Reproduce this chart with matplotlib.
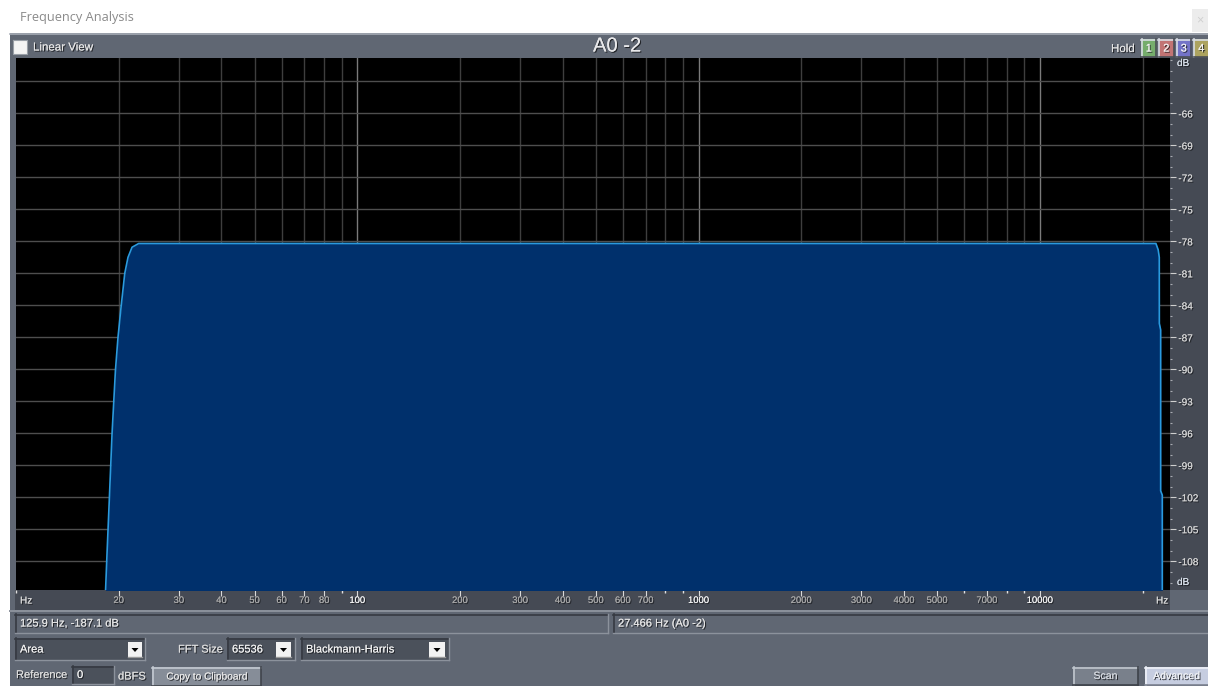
import matplotlib
matplotlib.use("Agg")
import matplotlib.pyplot as plt
from matplotlib.patches import Rectangle, Polygon
from matplotlib.ticker import NullFormatter
import matplotlib.patheffects as pe

plt.rcParams['font.family'] = ['Liberation Sans', 'DejaVu Sans']

W, H = 1208, 686

# Spectrum trace: frequency (Hz) and level (dB)
freq_hz = [18.0, 18.3, 18.48, 18.78, 19.12, 19.56, 19.90, 20.31, 20.83, 21.29,
           21.88, 22.88, 1000.0, 21890.0, 22230.0, 22390.0, 22400.0, 22600.0,
           22600.0, 22850.0, 22850.0]
level_db = [-112.0, -110.7, -107.3, -102.0, -96.0, -90.1, -87.0, -84.2, -81.0, -79.5,
            -78.55, -78.2, -78.2, -78.2, -78.8, -79.5, -85.7, -86.3,
            -101.4, -101.8, -112.0]

# Axis ranges
freq_range = (10.0, 24070.0)
db_range = (-110.7, -60.8)

# Frequency ticks
x_label_ticks = [20, 30, 40, 50, 60, 70, 80, 100, 200, 300, 400, 500, 600, 700,
                 1000, 2000, 3000, 4000, 5000, 7000, 10000]
x_plain_ticks = [10, 90, 800, 900, 6000, 8000, 9000, 20000]
bright_ticks = [100, 1000, 10000]
grid_freqs = [20, 30, 40, 50, 60, 70, 80, 90,
              100, 200, 300, 400, 500, 600, 700, 800, 900,
              1000, 2000, 3000, 4000, 5000, 6000, 7000, 8000, 9000,
              10000, 20000]

# Level ticks
db_label_ticks = [-66, -69, -72, -75, -78, -81, -84, -87, -90, -93, -96, -99,
                  -102, -105, -108]
grid_db = [-63] + db_label_ticks
minor_db = list(range(-110, -60))

PANEL = '#606773'
DARK = '#454a54'
shadow = [pe.withSimplePatchShadow(offset=(0.8, -0.8), shadow_rgbFace='#1a1c20', alpha=0.9),
          pe.Normal()]

fig = plt.figure(figsize=(W / 100, H / 100), dpi=100)
fig.patch.set_facecolor('white')

bg = fig.add_axes([0, 0, 1, 1])
bg.set_xlim(0, W)
bg.set_ylim(H, 0)
bg.axis('off')


def rect(x0, y0, x1, y1, color, z=1, **kw):
    bg.add_patch(Rectangle((x0, y0), x1 - x0, y1 - y0, facecolor=color,
                           edgecolor='none', zorder=z, **kw))


def sunken(x0, y0, x1, y1, fill):
    rect(x0, y0, x1, y1, fill, z=2)
    bg.plot([x0, x1], [y0 + 0.5, y0 + 0.5], color='#363a42', lw=1.2, zorder=3)
    bg.plot([x0 + 0.5, x0 + 0.5], [y0, y1], color='#363a42', lw=1.2, zorder=3)
    bg.plot([x0, x1], [y1 - 0.5, y1 - 0.5], color='#8c929c', lw=1.0, zorder=3)
    bg.plot([x1 - 0.5, x1 - 0.5], [y0, y1], color='#8c929c', lw=1.0, zorder=3)


def raised(x0, y0, x1, y1, fill, top='#b8bec8', bottom='#3c4048'):
    rect(x0, y0, x1, y1, fill, z=2)
    bg.plot([x0, x1], [y0 + 0.5, y0 + 0.5], color=top, lw=1.2, zorder=3)
    bg.plot([x0 + 0.5, x0 + 0.5], [y0, y1], color=top, lw=1.2, zorder=3)
    bg.plot([x0, x1], [y1 - 0.5, y1 - 0.5], color=bottom, lw=1.2, zorder=3)
    bg.plot([x1 - 0.5, x1 - 0.5], [y0, y1], color=bottom, lw=1.2, zorder=3)


def dropdown(x0, y0, x1, y1):
    rect(x0, y0, x1, y1, '#f2f2f2', z=4)
    bg.plot([x0, x1], [y1 - 0.5, y1 - 0.5], color='#9a9a9a', lw=1, zorder=5)
    cx, cy = (x0 + x1) / 2, (y0 + y1) / 2
    bg.add_patch(Polygon([[cx - 3.5, cy - 1.5], [cx + 3.5, cy - 1.5], [cx, cy + 2.5]],
                         closed=True, facecolor='black', edgecolor='none', zorder=6))


def label(x, y, s, size=8.2, color='#e4e4e4', ha='left', eff=True, **kw):
    t = bg.text(x, y, s, fontsize=size, color=color, ha=ha, va='center', zorder=7, **kw)
    if eff:
        t.set_path_effects(shadow)
    return t


# Window title strip
bg.text(20, 18, 'Frequency Analysis', fontsize=9.2, color='#8a8a8a', va='center',
        family=['Open Sans', 'DejaVu Sans'], zorder=7)
rect(1192, 9, 1208, 32, '#ececec', z=2)
bg.text(1200, 20, '×', fontsize=9, color='#d0d0d0', ha='center', va='center', zorder=7)

# Main dialog panel
rect(10, 33, W, H, PANEL, z=1)
bg.plot([10, W], [33.5, 33.5], color='#a6acb6', lw=1.2, zorder=2)

# Header row
rect(13, 40, 27, 54, '#f4f4f4', z=3)
bg.plot([13, 27, 27, 13, 13], [40, 40, 54, 54, 40], color='#9aa0a8', lw=0.8, zorder=4)
label(33, 47.5, 'Linear View', size=8.3)
label(617, 46, 'A0 -2', size=14.5, color='#e8e8ea', ha='center')
label(1111, 49, 'Hold', size=8.3)
hold_colors = ['#76ad6c', '#c27474', '#7373c8', '#aca35f']
for i, c in enumerate(hold_colors):
    x0 = 1141 + i * 17.5
    raised(x0, 39, x0 + 15.5, 57, c, top='#d8dde4', bottom='#4a4e56')
    label(x0 + 7.8, 48.5, str(i + 1), size=8, color='#f2f2f2', ha='center')

# Right level-axis panel and frequency-axis strip
rect(1170, 58, W, 590, DARK, z=2)
rect(15, 590, 1170, 610, DARK, z=2)
bg.plot([10, W], [611, 611], color='#8c929c', lw=1.4, zorder=3)
label(1177, 63, 'dB', size=7.2, color='#d8e0ea')
label(1177, 582, 'dB', size=7.2, color='#d8e0ea')
label(20, 600.5, 'Hz', size=7.2, color='#d8d8d8')
label(1156, 600.5, 'Hz', size=7.2, color='#d8d8d8')

# Status fields
sunken(15, 614, 608, 633, PANEL)
sunken(613, 614, W + 2, 633, PANEL)
label(20, 623.5, '125.9 Hz, -187.1 dB', size=8)
label(618, 623.5, '27.466 Hz (A0 -2)', size=8)

# Controls row
sunken(15, 638, 145, 660, '#4b515b')
label(20, 649.5, 'Area', size=8, color='#f0f0f0')
dropdown(128, 642, 142, 657)
label(178, 649.5, 'FFT Size', size=8, color='#dcdcdc')
sunken(227, 638, 295, 660, '#4b515b')
label(232, 649.5, '65536', size=8, color='#f0f0f0')
dropdown(276, 642, 291, 657)
sunken(301, 638, 449, 660, '#4b515b')
label(306, 649.5, 'Blackmann-Harris', size=8, color='#f0f0f0')
dropdown(429, 642, 445, 657)

# Bottom row
label(16, 675, 'Reference', size=8, color='#dcdcdc')
sunken(72, 666, 114, 684, '#4b515b')
label(77, 675, '0', size=8, color='#f0f0f0')
label(118, 676.5, 'dBFS', size=8, color='#dcdcdc')
raised(152, 667, 261, 686, '#868d98', top='#c4cad2', bottom='#40444c')
label(206.5, 676.5, 'Copy to Clipboard', size=7.3, color='#e6e6e6', ha='center')
raised(1073, 667, 1138, 685, '#79808b', top='#c0c6ce', bottom='#3e424a')
label(1105.5, 676, 'Scan', size=7.6, color='#d4d8de', ha='center')
raised(1145, 667, W + 2, 685, '#c6cde0', top='#eef1f8', bottom='#7c8290')
label(1176.5, 676, 'Advanced', size=7.6, color='#eef0f4', ha='center')

# Spectrum plot
ax = fig.add_axes([16 / W, 1 - 590 / H, (1170 - 16) / W, (590 - 58) / H])
ax.set_facecolor('black')
ax.set_xscale('log')
ax.set_xlim(*freq_range)
ax.set_ylim(*db_range)
for s in ax.spines.values():
    s.set_visible(False)

for f in grid_freqs:
    ax.axvline(f, color='#7a7a7a' if f in bright_ticks else '#3e3e3e', lw=1.0, zorder=1)
for d in grid_db:
    ax.axhline(d, color='#4e4e4e', lw=1.0, zorder=1)

ax.fill_between(freq_hz, level_db, -130, color='#00306c', lw=0, zorder=2)
ax.plot(freq_hz, level_db, color='#2a9ade', lw=1.2, zorder=3)

ax.set_xticks(x_label_ticks, labels=[str(v) for v in x_label_ticks])
ax.set_xticks(x_plain_ticks, minor=True)
ax.xaxis.set_minor_formatter(NullFormatter())
ax.tick_params(axis='x', which='major', direction='out', length=4, width=0.8,
               color='#d8d8d8', pad=0.3, labelsize=6.8, labelcolor='#a8a8a8')
ax.tick_params(axis='x', which='minor', direction='out', length=2, width=1.0,
               color='#e0e0e0')
for lab in ax.get_xticklabels():
    if int(lab.get_text()) in bright_ticks:
        lab.set_color('#f4f4f4')
    lab.set_path_effects(shadow)

ax.yaxis.tick_right()
ax.set_yticks(db_label_ticks, labels=[str(v) for v in db_label_ticks])
ax.set_yticks(minor_db, minor=True)
ax.tick_params(axis='y', which='major', direction='out', length=4, width=0.8,
               color='#cfcfcf', pad=2, labelsize=7.2, labelcolor='#d4d4d4')
ax.tick_params(axis='y', which='minor', direction='out', length=1.5, width=0.8,
               color='#a8aab0')
for lab in ax.get_yticklabels():
    lab.set_path_effects(shadow)

fig.savefig('out.png', dpi=100, facecolor=fig.get_facecolor())
